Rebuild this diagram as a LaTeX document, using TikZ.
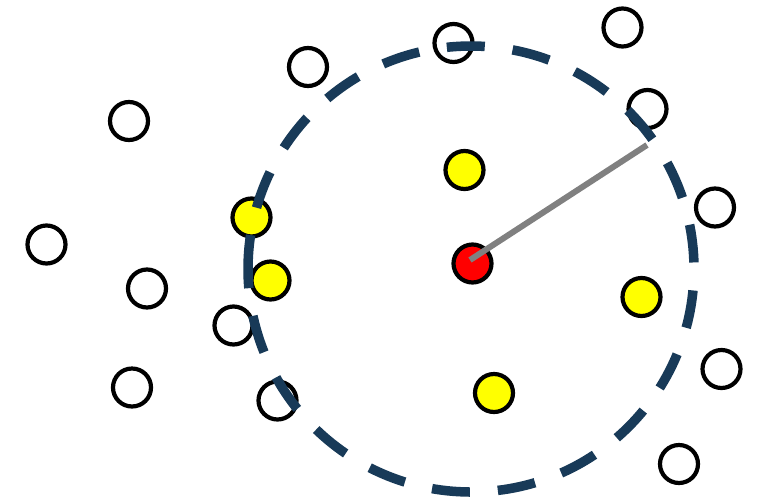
\documentclass[tikz,border=0pt]{standalone}
\definecolor{ringblue}{RGB}{24,58,88}
\definecolor{graytone}{RGB}{128,128,128}
\definecolor{dotyellow}{RGB}{255,255,0}
\definecolor{dotred}{RGB}{255,0,0}
\tikzset{
  dot/.style={circle, draw=black, line width=4.2pt, minimum size=38pt, inner sep=0pt},
  whitedot/.style={dot, fill=white},
  yellowdot/.style={dot, fill=dotyellow},
  reddot/.style={dot, fill=dotred},
  ringline/.style={draw=ringblue, line width=9.5pt, dash pattern=on 38pt off 28pt},
  radiusline/.style={draw=graytone, line width=6pt}
}
\begin{document}
\begin{tikzpicture}[x=1pt,y=-1pt]
\useasboundingbox (0,0) rectangle (762,499);
% white circles
\node[whitedot] (w1) at (129,121) {};
\node[whitedot] (w2) at (308,67) {};
\node[whitedot] (w3) at (453.5,43) {};
\node[whitedot] (w4) at (622.5,27.5) {};
\node[whitedot] (w5) at (647.5,109) {};
\node[whitedot] (w6) at (46.5,244.5) {};
\node[whitedot] (w7) at (147,288.5) {};
\node[whitedot] (w8) at (233.5,325.5) {};
\node[whitedot] (w9) at (132,387.5) {};
\node[whitedot] (w10) at (277.5,400.5) {};
\node[whitedot] (w11) at (715,207.5) {};
\node[whitedot] (w12) at (721.5,369) {};
\node[whitedot] (w13) at (679,464) {};
% yellow circles
\node[yellowdot] (y1) at (464.5,170) {};
\node[yellowdot] (y2) at (251.5,217.5) {};
\node[yellowdot] (y3) at (270.5,280.5) {};
\node[yellowdot] (y4) at (641.5,297) {};
\node[yellowdot] (y5) at (494,393) {};
% dashed ring
\coordinate (ringc) at (471,269);
\draw[ringline] (ringc) ++(179:223) arc[start angle=179, end angle=539, radius=223];
% red centre and radius line
\node[reddot] (red) at (472.5,263.5) {};
\coordinate (rimpt) at (647,145);
\draw[radiusline] ([shift={(-2.5,-3.5)}]red.center) -- (rimpt);
\end{tikzpicture}
\end{document}
